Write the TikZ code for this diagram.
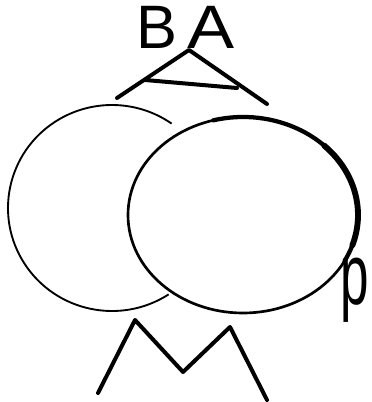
\documentclass[tikz,border=0pt]{standalone}
\usepackage{fontspec}
\setmainfont{Liberation Sans}
\usetikzlibrary{positioning}

\begin{document}
\begin{tikzpicture}[
    x=0.75pt, y=-0.75pt,
    pen/.style={line width=3pt, line cap=round, line join=round},
    thinpen/.style={line width=1.4pt},
    letter/.style={inner sep=0pt, font=\fontsize{46}{46}\selectfont}
  ]
    % page frame, same size as the reference
    \useasboundingbox (0,0) rectangle (371,402);

    % letters on top
    \node[letter] (lblB) at (157,27) {B};
    \node[letter, xscale=1.15] (lblA) at (211,27) {A};

    % big hat with its crossbar
    \draw[pen] (117,98) -- (189,50) -- (267,104);
    \draw[pen] (145,80) -- (237,88);

    % left circle, hidden behind the right one
    \draw[thinpen] (112,208) ++(57:104 and 103)
      arc[start angle=57, end angle=305, x radius=104, y radius=103];

    % right circle, heavier on its upper right (y runs down, so angles are negative)
    \draw[line width=2pt] (243,215) ellipse[x radius=115, y radius=98];
    \draw[line width=3.2pt, line cap=round] (243,215) ++(-105:115 and 98)
      arc[start angle=-105, end angle=28, x radius=115, y radius=98];
    \draw[line width=4.4pt, line cap=round] (243,215) ++(-45:115 and 98)
      arc[start angle=-45, end angle=18, x radius=115, y radius=98];

    % label at the right
    \node[inner sep=0pt, font=\fontsize{48}{48}\selectfont, xscale=0.8, yscale=1.35]
      (lblp) at (355,290) {p};

    % M below
    \draw[pen] (98,393) -- (135,320) -- (183,372) -- (230,327) -- (267,400);
  \end{tikzpicture}
\end{document}
